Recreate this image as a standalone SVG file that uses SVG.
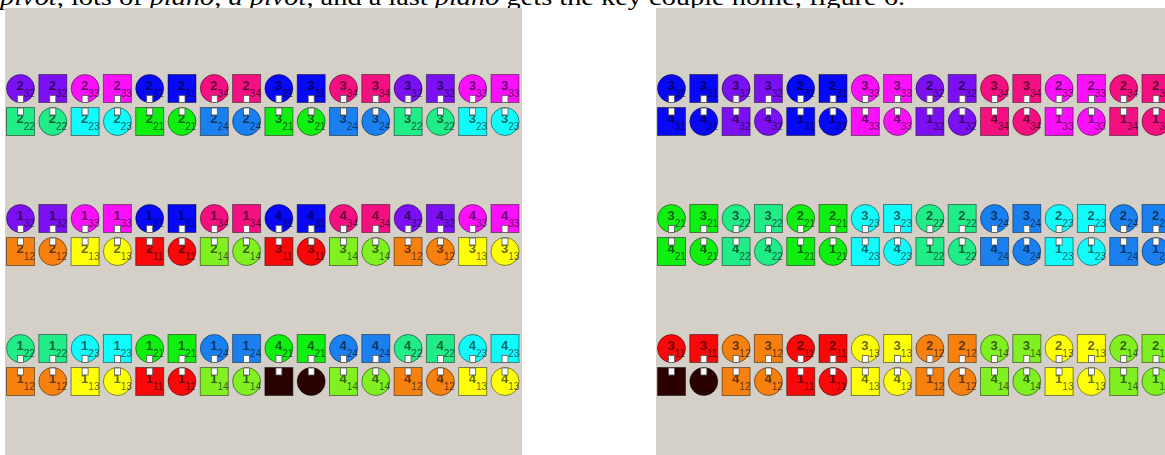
<svg xmlns="http://www.w3.org/2000/svg" xmlns:xlink="http://www.w3.org/1999/xlink" width="1165" height="455" viewBox="0 0 1165 455">
<style>
.c11{fill:#f80808}.c12{fill:#f7810f}.c13{fill:#ffff08}.c14{fill:#80f020}
.c21{fill:#10f010}.c22{fill:#20ec88}.c23{fill:#10fcfc}.c24{fill:#1a80f0}
.c31{fill:#0808f8}.c32{fill:#7c10f4}.c33{fill:#fa10fa}.c34{fill:#f41080}
.cx{fill:#2a0202}
.d{font-family:"Liberation Sans",Arial,sans-serif;font-size:13px;font-weight:bold;fill:#000;fill-opacity:.62}
.s{font-size:10px;font-weight:normal}
.tab{fill:#fff;stroke:#555;stroke-width:.8}
.cap{font-family:"Liberation Serif","Times New Roman",serif;font-size:24px;fill:#000}
</style>
<defs>
<circle id="C" cx="14.5" cy="14.5" r="14" stroke="#000" stroke-opacity=".45"/>
<rect id="S" x=".5" y=".5" width="28" height="28" stroke="#000" stroke-opacity=".45"/>
<g id="T"><rect class="tab" x="11.5" y="21.5" width="6" height="7"/><rect class="tab" x="11.5" y="34" width="6" height="7"/></g>
<clipPath id="clipL"><rect x="5" y="8" width="517" height="447"/></clipPath>
</defs>
<text class="cap" x="0" y="5" textLength="905" lengthAdjust="spacingAndGlyphs"><tspan font-style="italic">pivot</tspan>, lots of <tspan font-style="italic">piano</tspan>, <tspan font-style="italic">a pivot</tspan>, and a last <tspan font-style="italic">piano</tspan> gets the key couple home, figure 6.</text>
<rect id="panelL" x="5" y="8" width="517" height="447" fill="#d4d0c8"/>
<rect id="panelR" x="656" y="8" width="509" height="447" fill="#d4d0c8"/>
<g id="left" clip-path="url(#clipL)">
<g id="L1a0" transform="translate(6 74)"><use href="#C" class="c32"/><text class="d" x="10.5" y="16">2<tspan class="s" dy="6.5">32</tspan></text></g>
<g id="L1a1" transform="translate(38.3 74)"><use href="#S" class="c32"/><text class="d" x="10.5" y="16">2<tspan class="s" dy="6.5">32</tspan></text></g>
<g id="L1a2" transform="translate(70.6 74)"><use href="#C" class="c33"/><text class="d" x="10.5" y="16">2<tspan class="s" dy="6.5">33</tspan></text></g>
<g id="L1a3" transform="translate(102.9 74)"><use href="#S" class="c33"/><text class="d" x="10.5" y="16">2<tspan class="s" dy="6.5">33</tspan></text></g>
<g id="L1a4" transform="translate(135.2 74)"><use href="#C" class="c31"/><text class="d" x="10.5" y="16">2<tspan class="s" dy="6.5">31</tspan></text></g>
<g id="L1a5" transform="translate(167.5 74)"><use href="#S" class="c31"/><text class="d" x="10.5" y="16">2<tspan class="s" dy="6.5">31</tspan></text></g>
<g id="L1a6" transform="translate(199.8 74)"><use href="#C" class="c34"/><text class="d" x="10.5" y="16">2<tspan class="s" dy="6.5">34</tspan></text></g>
<g id="L1a7" transform="translate(232.1 74)"><use href="#S" class="c34"/><text class="d" x="10.5" y="16">2<tspan class="s" dy="6.5">34</tspan></text></g>
<g id="L1a8" transform="translate(264.4 74)"><use href="#C" class="c31"/><text class="d" x="10.5" y="16">3<tspan class="s" dy="6.5">31</tspan></text></g>
<g id="L1a9" transform="translate(296.7 74)"><use href="#S" class="c31"/><text class="d" x="10.5" y="16">3<tspan class="s" dy="6.5">31</tspan></text></g>
<g id="L1a10" transform="translate(329 74)"><use href="#C" class="c34"/><text class="d" x="10.5" y="16">3<tspan class="s" dy="6.5">34</tspan></text></g>
<g id="L1a11" transform="translate(361.3 74)"><use href="#S" class="c34"/><text class="d" x="10.5" y="16">3<tspan class="s" dy="6.5">34</tspan></text></g>
<g id="L1a12" transform="translate(393.6 74)"><use href="#C" class="c32"/><text class="d" x="10.5" y="16">3<tspan class="s" dy="6.5">32</tspan></text></g>
<g id="L1a13" transform="translate(425.9 74)"><use href="#S" class="c32"/><text class="d" x="10.5" y="16">3<tspan class="s" dy="6.5">32</tspan></text></g>
<g id="L1a14" transform="translate(458.2 74)"><use href="#C" class="c33"/><text class="d" x="10.5" y="16">3<tspan class="s" dy="6.5">33</tspan></text></g>
<g id="L1a15" transform="translate(490.5 74)"><use href="#S" class="c33"/><text class="d" x="10.5" y="16">3<tspan class="s" dy="6.5">33</tspan></text></g>

<g id="L1b0" transform="translate(6 107)"><use href="#S" class="c22"/><text class="d" x="10.5" y="16">2<tspan class="s" dy="6.5">22</tspan></text></g>
<g id="L1b1" transform="translate(38.3 107)"><use href="#C" class="c22"/><text class="d" x="10.5" y="16">2<tspan class="s" dy="6.5">22</tspan></text></g>
<g id="L1b2" transform="translate(70.6 107)"><use href="#S" class="c23"/><text class="d" x="10.5" y="16">2<tspan class="s" dy="6.5">23</tspan></text></g>
<g id="L1b3" transform="translate(102.9 107)"><use href="#C" class="c23"/><text class="d" x="10.5" y="16">2<tspan class="s" dy="6.5">23</tspan></text></g>
<g id="L1b4" transform="translate(135.2 107)"><use href="#S" class="c21"/><text class="d" x="10.5" y="16">2<tspan class="s" dy="6.5">21</tspan></text></g>
<g id="L1b5" transform="translate(167.5 107)"><use href="#C" class="c21"/><text class="d" x="10.5" y="16">2<tspan class="s" dy="6.5">21</tspan></text></g>
<g id="L1b6" transform="translate(199.8 107)"><use href="#S" class="c24"/><text class="d" x="10.5" y="16">2<tspan class="s" dy="6.5">24</tspan></text></g>
<g id="L1b7" transform="translate(232.1 107)"><use href="#C" class="c24"/><text class="d" x="10.5" y="16">2<tspan class="s" dy="6.5">24</tspan></text></g>
<g id="L1b8" transform="translate(264.4 107)"><use href="#S" class="c21"/><text class="d" x="10.5" y="16">3<tspan class="s" dy="6.5">21</tspan></text></g>
<g id="L1b9" transform="translate(296.7 107)"><use href="#C" class="c21"/><text class="d" x="10.5" y="16">3<tspan class="s" dy="6.5">21</tspan></text></g>
<g id="L1b10" transform="translate(329 107)"><use href="#S" class="c24"/><text class="d" x="10.5" y="16">3<tspan class="s" dy="6.5">24</tspan></text></g>
<g id="L1b11" transform="translate(361.3 107)"><use href="#C" class="c24"/><text class="d" x="10.5" y="16">3<tspan class="s" dy="6.5">24</tspan></text></g>
<g id="L1b12" transform="translate(393.6 107)"><use href="#S" class="c22"/><text class="d" x="10.5" y="16">3<tspan class="s" dy="6.5">22</tspan></text></g>
<g id="L1b13" transform="translate(425.9 107)"><use href="#C" class="c22"/><text class="d" x="10.5" y="16">3<tspan class="s" dy="6.5">22</tspan></text></g>
<g id="L1b14" transform="translate(458.2 107)"><use href="#S" class="c23"/><text class="d" x="10.5" y="16">3<tspan class="s" dy="6.5">23</tspan></text></g>
<g id="L1b15" transform="translate(490.5 107)"><use href="#C" class="c23"/><text class="d" x="10.5" y="16">3<tspan class="s" dy="6.5">23</tspan></text></g>

<g id="L2a0" transform="translate(6 204)"><use href="#C" class="c32"/><text class="d" x="10.5" y="16">1<tspan class="s" dy="6.5">32</tspan></text></g>
<g id="L2a1" transform="translate(38.3 204)"><use href="#S" class="c32"/><text class="d" x="10.5" y="16">1<tspan class="s" dy="6.5">32</tspan></text></g>
<g id="L2a2" transform="translate(70.6 204)"><use href="#C" class="c33"/><text class="d" x="10.5" y="16">1<tspan class="s" dy="6.5">33</tspan></text></g>
<g id="L2a3" transform="translate(102.9 204)"><use href="#S" class="c33"/><text class="d" x="10.5" y="16">1<tspan class="s" dy="6.5">33</tspan></text></g>
<g id="L2a4" transform="translate(135.2 204)"><use href="#C" class="c31"/><text class="d" x="10.5" y="16">1<tspan class="s" dy="6.5">31</tspan></text></g>
<g id="L2a5" transform="translate(167.5 204)"><use href="#S" class="c31"/><text class="d" x="10.5" y="16">1<tspan class="s" dy="6.5">31</tspan></text></g>
<g id="L2a6" transform="translate(199.8 204)"><use href="#C" class="c34"/><text class="d" x="10.5" y="16">1<tspan class="s" dy="6.5">34</tspan></text></g>
<g id="L2a7" transform="translate(232.1 204)"><use href="#S" class="c34"/><text class="d" x="10.5" y="16">1<tspan class="s" dy="6.5">34</tspan></text></g>
<g id="L2a8" transform="translate(264.4 204)"><use href="#C" class="c31"/><text class="d" x="10.5" y="16">4<tspan class="s" dy="6.5">31</tspan></text></g>
<g id="L2a9" transform="translate(296.7 204)"><use href="#S" class="c31"/><text class="d" x="10.5" y="16">4<tspan class="s" dy="6.5">31</tspan></text></g>
<g id="L2a10" transform="translate(329 204)"><use href="#C" class="c34"/><text class="d" x="10.5" y="16">4<tspan class="s" dy="6.5">34</tspan></text></g>
<g id="L2a11" transform="translate(361.3 204)"><use href="#S" class="c34"/><text class="d" x="10.5" y="16">4<tspan class="s" dy="6.5">34</tspan></text></g>
<g id="L2a12" transform="translate(393.6 204)"><use href="#C" class="c32"/><text class="d" x="10.5" y="16">4<tspan class="s" dy="6.5">32</tspan></text></g>
<g id="L2a13" transform="translate(425.9 204)"><use href="#S" class="c32"/><text class="d" x="10.5" y="16">4<tspan class="s" dy="6.5">32</tspan></text></g>
<g id="L2a14" transform="translate(458.2 204)"><use href="#C" class="c33"/><text class="d" x="10.5" y="16">4<tspan class="s" dy="6.5">33</tspan></text></g>
<g id="L2a15" transform="translate(490.5 204)"><use href="#S" class="c33"/><text class="d" x="10.5" y="16">4<tspan class="s" dy="6.5">33</tspan></text></g>

<g id="L2b0" transform="translate(6 237)"><use href="#S" class="c12"/><text class="d" x="10.5" y="16">2<tspan class="s" dy="6.5">12</tspan></text></g>
<g id="L2b1" transform="translate(38.3 237)"><use href="#C" class="c12"/><text class="d" x="10.5" y="16">2<tspan class="s" dy="6.5">12</tspan></text></g>
<g id="L2b2" transform="translate(70.6 237)"><use href="#S" class="c13"/><text class="d" x="10.5" y="16">2<tspan class="s" dy="6.5">13</tspan></text></g>
<g id="L2b3" transform="translate(102.9 237)"><use href="#C" class="c13"/><text class="d" x="10.5" y="16">2<tspan class="s" dy="6.5">13</tspan></text></g>
<g id="L2b4" transform="translate(135.2 237)"><use href="#S" class="c11"/><text class="d" x="10.5" y="16">2<tspan class="s" dy="6.5">11</tspan></text></g>
<g id="L2b5" transform="translate(167.5 237)"><use href="#C" class="c11"/><text class="d" x="10.5" y="16">2<tspan class="s" dy="6.5">11</tspan></text></g>
<g id="L2b6" transform="translate(199.8 237)"><use href="#S" class="c14"/><text class="d" x="10.5" y="16">2<tspan class="s" dy="6.5">14</tspan></text></g>
<g id="L2b7" transform="translate(232.1 237)"><use href="#C" class="c14"/><text class="d" x="10.5" y="16">2<tspan class="s" dy="6.5">14</tspan></text></g>
<g id="L2b8" transform="translate(264.4 237)"><use href="#S" class="c11"/><text class="d" x="10.5" y="16">3<tspan class="s" dy="6.5">11</tspan></text></g>
<g id="L2b9" transform="translate(296.7 237)"><use href="#C" class="c11"/><text class="d" x="10.5" y="16">3<tspan class="s" dy="6.5">11</tspan></text></g>
<g id="L2b10" transform="translate(329 237)"><use href="#S" class="c14"/><text class="d" x="10.5" y="16">3<tspan class="s" dy="6.5">14</tspan></text></g>
<g id="L2b11" transform="translate(361.3 237)"><use href="#C" class="c14"/><text class="d" x="10.5" y="16">3<tspan class="s" dy="6.5">14</tspan></text></g>
<g id="L2b12" transform="translate(393.6 237)"><use href="#S" class="c12"/><text class="d" x="10.5" y="16">3<tspan class="s" dy="6.5">12</tspan></text></g>
<g id="L2b13" transform="translate(425.9 237)"><use href="#C" class="c12"/><text class="d" x="10.5" y="16">3<tspan class="s" dy="6.5">12</tspan></text></g>
<g id="L2b14" transform="translate(458.2 237)"><use href="#S" class="c13"/><text class="d" x="10.5" y="16">3<tspan class="s" dy="6.5">13</tspan></text></g>
<g id="L2b15" transform="translate(490.5 237)"><use href="#C" class="c13"/><text class="d" x="10.5" y="16">3<tspan class="s" dy="6.5">13</tspan></text></g>

<g id="L3a0" transform="translate(6 334)"><use href="#C" class="c22"/><text class="d" x="10.5" y="16">1<tspan class="s" dy="6.5">22</tspan></text></g>
<g id="L3a1" transform="translate(38.3 334)"><use href="#S" class="c22"/><text class="d" x="10.5" y="16">1<tspan class="s" dy="6.5">22</tspan></text></g>
<g id="L3a2" transform="translate(70.6 334)"><use href="#C" class="c23"/><text class="d" x="10.5" y="16">1<tspan class="s" dy="6.5">23</tspan></text></g>
<g id="L3a3" transform="translate(102.9 334)"><use href="#S" class="c23"/><text class="d" x="10.5" y="16">1<tspan class="s" dy="6.5">23</tspan></text></g>
<g id="L3a4" transform="translate(135.2 334)"><use href="#C" class="c21"/><text class="d" x="10.5" y="16">1<tspan class="s" dy="6.5">21</tspan></text></g>
<g id="L3a5" transform="translate(167.5 334)"><use href="#S" class="c21"/><text class="d" x="10.5" y="16">1<tspan class="s" dy="6.5">21</tspan></text></g>
<g id="L3a6" transform="translate(199.8 334)"><use href="#C" class="c24"/><text class="d" x="10.5" y="16">1<tspan class="s" dy="6.5">24</tspan></text></g>
<g id="L3a7" transform="translate(232.1 334)"><use href="#S" class="c24"/><text class="d" x="10.5" y="16">1<tspan class="s" dy="6.5">24</tspan></text></g>
<g id="L3a8" transform="translate(264.4 334)"><use href="#C" class="c21"/><text class="d" x="10.5" y="16">4<tspan class="s" dy="6.5">21</tspan></text></g>
<g id="L3a9" transform="translate(296.7 334)"><use href="#S" class="c21"/><text class="d" x="10.5" y="16">4<tspan class="s" dy="6.5">21</tspan></text></g>
<g id="L3a10" transform="translate(329 334)"><use href="#C" class="c24"/><text class="d" x="10.5" y="16">4<tspan class="s" dy="6.5">24</tspan></text></g>
<g id="L3a11" transform="translate(361.3 334)"><use href="#S" class="c24"/><text class="d" x="10.5" y="16">4<tspan class="s" dy="6.5">24</tspan></text></g>
<g id="L3a12" transform="translate(393.6 334)"><use href="#C" class="c22"/><text class="d" x="10.5" y="16">4<tspan class="s" dy="6.5">22</tspan></text></g>
<g id="L3a13" transform="translate(425.9 334)"><use href="#S" class="c22"/><text class="d" x="10.5" y="16">4<tspan class="s" dy="6.5">22</tspan></text></g>
<g id="L3a14" transform="translate(458.2 334)"><use href="#C" class="c23"/><text class="d" x="10.5" y="16">4<tspan class="s" dy="6.5">23</tspan></text></g>
<g id="L3a15" transform="translate(490.5 334)"><use href="#S" class="c23"/><text class="d" x="10.5" y="16">4<tspan class="s" dy="6.5">23</tspan></text></g>

<g id="L3b0" transform="translate(6 367)"><use href="#S" class="c12"/><text class="d" x="10.5" y="16">1<tspan class="s" dy="6.5">12</tspan></text></g>
<g id="L3b1" transform="translate(38.3 367)"><use href="#C" class="c12"/><text class="d" x="10.5" y="16">1<tspan class="s" dy="6.5">12</tspan></text></g>
<g id="L3b2" transform="translate(70.6 367)"><use href="#S" class="c13"/><text class="d" x="10.5" y="16">1<tspan class="s" dy="6.5">13</tspan></text></g>
<g id="L3b3" transform="translate(102.9 367)"><use href="#C" class="c13"/><text class="d" x="10.5" y="16">1<tspan class="s" dy="6.5">13</tspan></text></g>
<g id="L3b4" transform="translate(135.2 367)"><use href="#S" class="c11"/><text class="d" x="10.5" y="16">1<tspan class="s" dy="6.5">11</tspan></text></g>
<g id="L3b5" transform="translate(167.5 367)"><use href="#C" class="c11"/><text class="d" x="10.5" y="16">1<tspan class="s" dy="6.5">11</tspan></text></g>
<g id="L3b6" transform="translate(199.8 367)"><use href="#S" class="c14"/><text class="d" x="10.5" y="16">1<tspan class="s" dy="6.5">14</tspan></text></g>
<g id="L3b7" transform="translate(232.1 367)"><use href="#C" class="c14"/><text class="d" x="10.5" y="16">1<tspan class="s" dy="6.5">14</tspan></text></g>
<g id="L3b8" transform="translate(264.4 367)"><use href="#S" class="cx"/></g>
<g id="L3b9" transform="translate(296.7 367)"><use href="#C" class="cx"/></g>
<g id="L3b10" transform="translate(329 367)"><use href="#S" class="c14"/><text class="d" x="10.5" y="16">4<tspan class="s" dy="6.5">14</tspan></text></g>
<g id="L3b11" transform="translate(361.3 367)"><use href="#C" class="c14"/><text class="d" x="10.5" y="16">4<tspan class="s" dy="6.5">14</tspan></text></g>
<g id="L3b12" transform="translate(393.6 367)"><use href="#S" class="c12"/><text class="d" x="10.5" y="16">4<tspan class="s" dy="6.5">12</tspan></text></g>
<g id="L3b13" transform="translate(425.9 367)"><use href="#C" class="c12"/><text class="d" x="10.5" y="16">4<tspan class="s" dy="6.5">12</tspan></text></g>
<g id="L3b14" transform="translate(458.2 367)"><use href="#S" class="c13"/><text class="d" x="10.5" y="16">4<tspan class="s" dy="6.5">13</tspan></text></g>
<g id="L3b15" transform="translate(490.5 367)"><use href="#C" class="c13"/><text class="d" x="10.5" y="16">4<tspan class="s" dy="6.5">13</tspan></text></g>
</g>

<g id="right">
<g id="R1a0" transform="translate(657 74)"><use href="#C" class="c31"/><text class="d" x="10.5" y="16">3<tspan class="s" dy="6.5">31</tspan></text></g>
<g id="R1a1" transform="translate(689.3 74)"><use href="#S" class="c31"/><text class="d" x="10.5" y="16">3<tspan class="s" dy="6.5">31</tspan></text></g>
<g id="R1a2" transform="translate(721.6 74)"><use href="#C" class="c32"/><text class="d" x="10.5" y="16">3<tspan class="s" dy="6.5">32</tspan></text></g>
<g id="R1a3" transform="translate(753.9 74)"><use href="#S" class="c32"/><text class="d" x="10.5" y="16">3<tspan class="s" dy="6.5">32</tspan></text></g>
<g id="R1a4" transform="translate(786.2 74)"><use href="#C" class="c31"/><text class="d" x="10.5" y="16">2<tspan class="s" dy="6.5">31</tspan></text></g>
<g id="R1a5" transform="translate(818.5 74)"><use href="#S" class="c31"/><text class="d" x="10.5" y="16">2<tspan class="s" dy="6.5">31</tspan></text></g>
<g id="R1a6" transform="translate(850.8 74)"><use href="#C" class="c33"/><text class="d" x="10.5" y="16">3<tspan class="s" dy="6.5">33</tspan></text></g>
<g id="R1a7" transform="translate(883.1 74)"><use href="#S" class="c33"/><text class="d" x="10.5" y="16">3<tspan class="s" dy="6.5">33</tspan></text></g>
<g id="R1a8" transform="translate(915.4 74)"><use href="#C" class="c32"/><text class="d" x="10.5" y="16">2<tspan class="s" dy="6.5">32</tspan></text></g>
<g id="R1a9" transform="translate(947.7 74)"><use href="#S" class="c32"/><text class="d" x="10.5" y="16">2<tspan class="s" dy="6.5">32</tspan></text></g>
<g id="R1a10" transform="translate(980 74)"><use href="#C" class="c34"/><text class="d" x="10.5" y="16">3<tspan class="s" dy="6.5">34</tspan></text></g>
<g id="R1a11" transform="translate(1012.3 74)"><use href="#S" class="c34"/><text class="d" x="10.5" y="16">3<tspan class="s" dy="6.5">34</tspan></text></g>
<g id="R1a12" transform="translate(1044.6 74)"><use href="#C" class="c33"/><text class="d" x="10.5" y="16">2<tspan class="s" dy="6.5">33</tspan></text></g>
<g id="R1a13" transform="translate(1076.9 74)"><use href="#S" class="c33"/><text class="d" x="10.5" y="16">2<tspan class="s" dy="6.5">33</tspan></text></g>
<g id="R1a14" transform="translate(1109.2 74)"><use href="#C" class="c34"/><text class="d" x="10.5" y="16">2<tspan class="s" dy="6.5">34</tspan></text></g>
<g id="R1a15" transform="translate(1141.5 74)"><use href="#S" class="c34"/><text class="d" x="10.5" y="16">2<tspan class="s" dy="6.5">34</tspan></text></g>

<g id="R1b0" transform="translate(657 107)"><use href="#S" class="c31"/><text class="d" x="10.5" y="16">4<tspan class="s" dy="6.5">31</tspan></text></g>
<g id="R1b1" transform="translate(689.3 107)"><use href="#C" class="c31"/><text class="d" x="10.5" y="16">4<tspan class="s" dy="6.5">31</tspan></text></g>
<g id="R1b2" transform="translate(721.6 107)"><use href="#S" class="c32"/><text class="d" x="10.5" y="16">4<tspan class="s" dy="6.5">32</tspan></text></g>
<g id="R1b3" transform="translate(753.9 107)"><use href="#C" class="c32"/><text class="d" x="10.5" y="16">4<tspan class="s" dy="6.5">32</tspan></text></g>
<g id="R1b4" transform="translate(786.2 107)"><use href="#S" class="c31"/><text class="d" x="10.5" y="16">1<tspan class="s" dy="6.5">31</tspan></text></g>
<g id="R1b5" transform="translate(818.5 107)"><use href="#C" class="c31"/><text class="d" x="10.5" y="16">1<tspan class="s" dy="6.5">31</tspan></text></g>
<g id="R1b6" transform="translate(850.8 107)"><use href="#S" class="c33"/><text class="d" x="10.5" y="16">4<tspan class="s" dy="6.5">33</tspan></text></g>
<g id="R1b7" transform="translate(883.1 107)"><use href="#C" class="c33"/><text class="d" x="10.5" y="16">4<tspan class="s" dy="6.5">33</tspan></text></g>
<g id="R1b8" transform="translate(915.4 107)"><use href="#S" class="c32"/><text class="d" x="10.5" y="16">1<tspan class="s" dy="6.5">32</tspan></text></g>
<g id="R1b9" transform="translate(947.7 107)"><use href="#C" class="c32"/><text class="d" x="10.5" y="16">1<tspan class="s" dy="6.5">32</tspan></text></g>
<g id="R1b10" transform="translate(980 107)"><use href="#S" class="c34"/><text class="d" x="10.5" y="16">4<tspan class="s" dy="6.5">34</tspan></text></g>
<g id="R1b11" transform="translate(1012.3 107)"><use href="#C" class="c34"/><text class="d" x="10.5" y="16">4<tspan class="s" dy="6.5">34</tspan></text></g>
<g id="R1b12" transform="translate(1044.6 107)"><use href="#S" class="c33"/><text class="d" x="10.5" y="16">1<tspan class="s" dy="6.5">33</tspan></text></g>
<g id="R1b13" transform="translate(1076.9 107)"><use href="#C" class="c33"/><text class="d" x="10.5" y="16">1<tspan class="s" dy="6.5">33</tspan></text></g>
<g id="R1b14" transform="translate(1109.2 107)"><use href="#S" class="c34"/><text class="d" x="10.5" y="16">1<tspan class="s" dy="6.5">34</tspan></text></g>
<g id="R1b15" transform="translate(1141.5 107)"><use href="#C" class="c34"/><text class="d" x="10.5" y="16">1<tspan class="s" dy="6.5">34</tspan></text></g>

<g id="R2a0" transform="translate(657 204)"><use href="#C" class="c21"/><text class="d" x="10.5" y="16">3<tspan class="s" dy="6.5">21</tspan></text></g>
<g id="R2a1" transform="translate(689.3 204)"><use href="#S" class="c21"/><text class="d" x="10.5" y="16">3<tspan class="s" dy="6.5">21</tspan></text></g>
<g id="R2a2" transform="translate(721.6 204)"><use href="#C" class="c22"/><text class="d" x="10.5" y="16">3<tspan class="s" dy="6.5">22</tspan></text></g>
<g id="R2a3" transform="translate(753.9 204)"><use href="#S" class="c22"/><text class="d" x="10.5" y="16">3<tspan class="s" dy="6.5">22</tspan></text></g>
<g id="R2a4" transform="translate(786.2 204)"><use href="#C" class="c21"/><text class="d" x="10.5" y="16">2<tspan class="s" dy="6.5">21</tspan></text></g>
<g id="R2a5" transform="translate(818.5 204)"><use href="#S" class="c21"/><text class="d" x="10.5" y="16">2<tspan class="s" dy="6.5">21</tspan></text></g>
<g id="R2a6" transform="translate(850.8 204)"><use href="#C" class="c23"/><text class="d" x="10.5" y="16">3<tspan class="s" dy="6.5">23</tspan></text></g>
<g id="R2a7" transform="translate(883.1 204)"><use href="#S" class="c23"/><text class="d" x="10.5" y="16">3<tspan class="s" dy="6.5">23</tspan></text></g>
<g id="R2a8" transform="translate(915.4 204)"><use href="#C" class="c22"/><text class="d" x="10.5" y="16">2<tspan class="s" dy="6.5">22</tspan></text></g>
<g id="R2a9" transform="translate(947.7 204)"><use href="#S" class="c22"/><text class="d" x="10.5" y="16">2<tspan class="s" dy="6.5">22</tspan></text></g>
<g id="R2a10" transform="translate(980 204)"><use href="#C" class="c24"/><text class="d" x="10.5" y="16">3<tspan class="s" dy="6.5">24</tspan></text></g>
<g id="R2a11" transform="translate(1012.3 204)"><use href="#S" class="c24"/><text class="d" x="10.5" y="16">3<tspan class="s" dy="6.5">24</tspan></text></g>
<g id="R2a12" transform="translate(1044.6 204)"><use href="#C" class="c23"/><text class="d" x="10.5" y="16">2<tspan class="s" dy="6.5">23</tspan></text></g>
<g id="R2a13" transform="translate(1076.9 204)"><use href="#S" class="c23"/><text class="d" x="10.5" y="16">2<tspan class="s" dy="6.5">23</tspan></text></g>
<g id="R2a14" transform="translate(1109.2 204)"><use href="#C" class="c24"/><text class="d" x="10.5" y="16">2<tspan class="s" dy="6.5">24</tspan></text></g>
<g id="R2a15" transform="translate(1141.5 204)"><use href="#S" class="c24"/><text class="d" x="10.5" y="16">2<tspan class="s" dy="6.5">24</tspan></text></g>

<g id="R2b0" transform="translate(657 237)"><use href="#S" class="c21"/><text class="d" x="10.5" y="16">4<tspan class="s" dy="6.5">21</tspan></text></g>
<g id="R2b1" transform="translate(689.3 237)"><use href="#C" class="c21"/><text class="d" x="10.5" y="16">4<tspan class="s" dy="6.5">21</tspan></text></g>
<g id="R2b2" transform="translate(721.6 237)"><use href="#S" class="c22"/><text class="d" x="10.5" y="16">4<tspan class="s" dy="6.5">22</tspan></text></g>
<g id="R2b3" transform="translate(753.9 237)"><use href="#C" class="c22"/><text class="d" x="10.5" y="16">4<tspan class="s" dy="6.5">22</tspan></text></g>
<g id="R2b4" transform="translate(786.2 237)"><use href="#S" class="c21"/><text class="d" x="10.5" y="16">1<tspan class="s" dy="6.5">21</tspan></text></g>
<g id="R2b5" transform="translate(818.5 237)"><use href="#C" class="c21"/><text class="d" x="10.5" y="16">1<tspan class="s" dy="6.5">21</tspan></text></g>
<g id="R2b6" transform="translate(850.8 237)"><use href="#S" class="c23"/><text class="d" x="10.5" y="16">4<tspan class="s" dy="6.5">23</tspan></text></g>
<g id="R2b7" transform="translate(883.1 237)"><use href="#C" class="c23"/><text class="d" x="10.5" y="16">4<tspan class="s" dy="6.5">23</tspan></text></g>
<g id="R2b8" transform="translate(915.4 237)"><use href="#S" class="c22"/><text class="d" x="10.5" y="16">1<tspan class="s" dy="6.5">22</tspan></text></g>
<g id="R2b9" transform="translate(947.7 237)"><use href="#C" class="c22"/><text class="d" x="10.5" y="16">1<tspan class="s" dy="6.5">22</tspan></text></g>
<g id="R2b10" transform="translate(980 237)"><use href="#S" class="c24"/><text class="d" x="10.5" y="16">4<tspan class="s" dy="6.5">24</tspan></text></g>
<g id="R2b11" transform="translate(1012.3 237)"><use href="#C" class="c24"/><text class="d" x="10.5" y="16">4<tspan class="s" dy="6.5">24</tspan></text></g>
<g id="R2b12" transform="translate(1044.6 237)"><use href="#S" class="c23"/><text class="d" x="10.5" y="16">1<tspan class="s" dy="6.5">23</tspan></text></g>
<g id="R2b13" transform="translate(1076.9 237)"><use href="#C" class="c23"/><text class="d" x="10.5" y="16">1<tspan class="s" dy="6.5">23</tspan></text></g>
<g id="R2b14" transform="translate(1109.2 237)"><use href="#S" class="c24"/><text class="d" x="10.5" y="16">1<tspan class="s" dy="6.5">24</tspan></text></g>
<g id="R2b15" transform="translate(1141.5 237)"><use href="#C" class="c24"/><text class="d" x="10.5" y="16">1<tspan class="s" dy="6.5">24</tspan></text></g>

<g id="R3a0" transform="translate(657 334)"><use href="#C" class="c11"/><text class="d" x="10.5" y="16">3<tspan class="s" dy="6.5">11</tspan></text></g>
<g id="R3a1" transform="translate(689.3 334)"><use href="#S" class="c11"/><text class="d" x="10.5" y="16">3<tspan class="s" dy="6.5">11</tspan></text></g>
<g id="R3a2" transform="translate(721.6 334)"><use href="#C" class="c12"/><text class="d" x="10.5" y="16">3<tspan class="s" dy="6.5">12</tspan></text></g>
<g id="R3a3" transform="translate(753.9 334)"><use href="#S" class="c12"/><text class="d" x="10.5" y="16">3<tspan class="s" dy="6.5">12</tspan></text></g>
<g id="R3a4" transform="translate(786.2 334)"><use href="#C" class="c11"/><text class="d" x="10.5" y="16">2<tspan class="s" dy="6.5">11</tspan></text></g>
<g id="R3a5" transform="translate(818.5 334)"><use href="#S" class="c11"/><text class="d" x="10.5" y="16">2<tspan class="s" dy="6.5">11</tspan></text></g>
<g id="R3a6" transform="translate(850.8 334)"><use href="#C" class="c13"/><text class="d" x="10.5" y="16">3<tspan class="s" dy="6.5">13</tspan></text></g>
<g id="R3a7" transform="translate(883.1 334)"><use href="#S" class="c13"/><text class="d" x="10.5" y="16">3<tspan class="s" dy="6.5">13</tspan></text></g>
<g id="R3a8" transform="translate(915.4 334)"><use href="#C" class="c12"/><text class="d" x="10.5" y="16">2<tspan class="s" dy="6.5">12</tspan></text></g>
<g id="R3a9" transform="translate(947.7 334)"><use href="#S" class="c12"/><text class="d" x="10.5" y="16">2<tspan class="s" dy="6.5">12</tspan></text></g>
<g id="R3a10" transform="translate(980 334)"><use href="#C" class="c14"/><text class="d" x="10.5" y="16">3<tspan class="s" dy="6.5">14</tspan></text></g>
<g id="R3a11" transform="translate(1012.3 334)"><use href="#S" class="c14"/><text class="d" x="10.5" y="16">3<tspan class="s" dy="6.5">14</tspan></text></g>
<g id="R3a12" transform="translate(1044.6 334)"><use href="#C" class="c13"/><text class="d" x="10.5" y="16">2<tspan class="s" dy="6.5">13</tspan></text></g>
<g id="R3a13" transform="translate(1076.9 334)"><use href="#S" class="c13"/><text class="d" x="10.5" y="16">2<tspan class="s" dy="6.5">13</tspan></text></g>
<g id="R3a14" transform="translate(1109.2 334)"><use href="#C" class="c14"/><text class="d" x="10.5" y="16">2<tspan class="s" dy="6.5">14</tspan></text></g>
<g id="R3a15" transform="translate(1141.5 334)"><use href="#S" class="c14"/><text class="d" x="10.5" y="16">2<tspan class="s" dy="6.5">14</tspan></text></g>

<g id="R3b0" transform="translate(657 367)"><use href="#S" class="cx"/></g>
<g id="R3b1" transform="translate(689.3 367)"><use href="#C" class="cx"/></g>
<g id="R3b2" transform="translate(721.6 367)"><use href="#S" class="c12"/><text class="d" x="10.5" y="16">4<tspan class="s" dy="6.5">12</tspan></text></g>
<g id="R3b3" transform="translate(753.9 367)"><use href="#C" class="c12"/><text class="d" x="10.5" y="16">4<tspan class="s" dy="6.5">12</tspan></text></g>
<g id="R3b4" transform="translate(786.2 367)"><use href="#S" class="c11"/><text class="d" x="10.5" y="16">1<tspan class="s" dy="6.5">11</tspan></text></g>
<g id="R3b5" transform="translate(818.5 367)"><use href="#C" class="c11"/><text class="d" x="10.5" y="16">1<tspan class="s" dy="6.5">11</tspan></text></g>
<g id="R3b6" transform="translate(850.8 367)"><use href="#S" class="c13"/><text class="d" x="10.5" y="16">4<tspan class="s" dy="6.5">13</tspan></text></g>
<g id="R3b7" transform="translate(883.1 367)"><use href="#C" class="c13"/><text class="d" x="10.5" y="16">4<tspan class="s" dy="6.5">13</tspan></text></g>
<g id="R3b8" transform="translate(915.4 367)"><use href="#S" class="c12"/><text class="d" x="10.5" y="16">1<tspan class="s" dy="6.5">12</tspan></text></g>
<g id="R3b9" transform="translate(947.7 367)"><use href="#C" class="c12"/><text class="d" x="10.5" y="16">1<tspan class="s" dy="6.5">12</tspan></text></g>
<g id="R3b10" transform="translate(980 367)"><use href="#S" class="c14"/><text class="d" x="10.5" y="16">4<tspan class="s" dy="6.5">14</tspan></text></g>
<g id="R3b11" transform="translate(1012.3 367)"><use href="#C" class="c14"/><text class="d" x="10.5" y="16">4<tspan class="s" dy="6.5">14</tspan></text></g>
<g id="R3b12" transform="translate(1044.6 367)"><use href="#S" class="c13"/><text class="d" x="10.5" y="16">1<tspan class="s" dy="6.5">13</tspan></text></g>
<g id="R3b13" transform="translate(1076.9 367)"><use href="#C" class="c13"/><text class="d" x="10.5" y="16">1<tspan class="s" dy="6.5">13</tspan></text></g>
<g id="R3b14" transform="translate(1109.2 367)"><use href="#S" class="c14"/><text class="d" x="10.5" y="16">1<tspan class="s" dy="6.5">14</tspan></text></g>
<g id="R3b15" transform="translate(1141.5 367)"><use href="#C" class="c14"/><text class="d" x="10.5" y="16">1<tspan class="s" dy="6.5">14</tspan></text></g>
</g>

<g id="connectors">
<use href="#T" x="6" y="74"/><use href="#T" x="38.3" y="74"/><use href="#T" x="70.6" y="74"/><use href="#T" x="102.9" y="74"/><use href="#T" x="135.2" y="74"/><use href="#T" x="167.5" y="74"/><use href="#T" x="199.8" y="74"/><use href="#T" x="232.1" y="74"/><use href="#T" x="264.4" y="74"/><use href="#T" x="296.7" y="74"/><use href="#T" x="329" y="74"/><use href="#T" x="361.3" y="74"/><use href="#T" x="393.6" y="74"/><use href="#T" x="425.9" y="74"/><use href="#T" x="458.2" y="74"/><use href="#T" x="490.5" y="74"/>
<use href="#T" x="6" y="204"/><use href="#T" x="38.3" y="204"/><use href="#T" x="70.6" y="204"/><use href="#T" x="102.9" y="204"/><use href="#T" x="135.2" y="204"/><use href="#T" x="167.5" y="204"/><use href="#T" x="199.8" y="204"/><use href="#T" x="232.1" y="204"/><use href="#T" x="264.4" y="204"/><use href="#T" x="296.7" y="204"/><use href="#T" x="329" y="204"/><use href="#T" x="361.3" y="204"/><use href="#T" x="393.6" y="204"/><use href="#T" x="425.9" y="204"/><use href="#T" x="458.2" y="204"/><use href="#T" x="490.5" y="204"/>
<use href="#T" x="6" y="334"/><use href="#T" x="38.3" y="334"/><use href="#T" x="70.6" y="334"/><use href="#T" x="102.9" y="334"/><use href="#T" x="135.2" y="334"/><use href="#T" x="167.5" y="334"/><use href="#T" x="199.8" y="334"/><use href="#T" x="232.1" y="334"/><use href="#T" x="264.4" y="334"/><use href="#T" x="296.7" y="334"/><use href="#T" x="329" y="334"/><use href="#T" x="361.3" y="334"/><use href="#T" x="393.6" y="334"/><use href="#T" x="425.9" y="334"/><use href="#T" x="458.2" y="334"/><use href="#T" x="490.5" y="334"/>
<use href="#T" x="657" y="74"/><use href="#T" x="689.3" y="74"/><use href="#T" x="721.6" y="74"/><use href="#T" x="753.9" y="74"/><use href="#T" x="786.2" y="74"/><use href="#T" x="818.5" y="74"/><use href="#T" x="850.8" y="74"/><use href="#T" x="883.1" y="74"/><use href="#T" x="915.4" y="74"/><use href="#T" x="947.7" y="74"/><use href="#T" x="980" y="74"/><use href="#T" x="1012.3" y="74"/><use href="#T" x="1044.6" y="74"/><use href="#T" x="1076.9" y="74"/><use href="#T" x="1109.2" y="74"/><use href="#T" x="1141.5" y="74"/>
<use href="#T" x="657" y="204"/><use href="#T" x="689.3" y="204"/><use href="#T" x="721.6" y="204"/><use href="#T" x="753.9" y="204"/><use href="#T" x="786.2" y="204"/><use href="#T" x="818.5" y="204"/><use href="#T" x="850.8" y="204"/><use href="#T" x="883.1" y="204"/><use href="#T" x="915.4" y="204"/><use href="#T" x="947.7" y="204"/><use href="#T" x="980" y="204"/><use href="#T" x="1012.3" y="204"/><use href="#T" x="1044.6" y="204"/><use href="#T" x="1076.9" y="204"/><use href="#T" x="1109.2" y="204"/><use href="#T" x="1141.5" y="204"/>
<use href="#T" x="657" y="334"/><use href="#T" x="689.3" y="334"/><use href="#T" x="721.6" y="334"/><use href="#T" x="753.9" y="334"/><use href="#T" x="786.2" y="334"/><use href="#T" x="818.5" y="334"/><use href="#T" x="850.8" y="334"/><use href="#T" x="883.1" y="334"/><use href="#T" x="915.4" y="334"/><use href="#T" x="947.7" y="334"/><use href="#T" x="980" y="334"/><use href="#T" x="1012.3" y="334"/><use href="#T" x="1044.6" y="334"/><use href="#T" x="1076.9" y="334"/><use href="#T" x="1109.2" y="334"/><use href="#T" x="1141.5" y="334"/>
</g>
</svg>
